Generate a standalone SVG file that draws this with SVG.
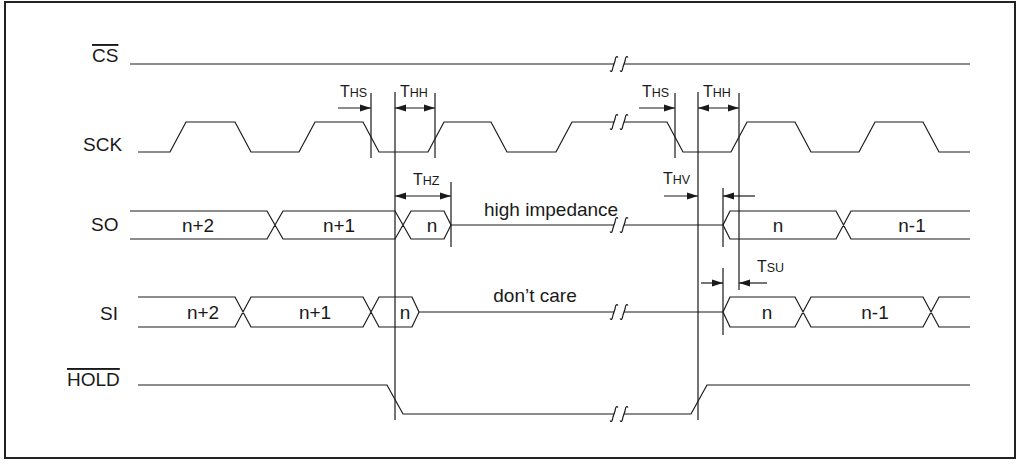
<svg xmlns="http://www.w3.org/2000/svg" xmlns:xlink="http://www.w3.org/1999/xlink" width="1022" height="464" viewBox="0 0 1022 464">
<style>
.w{fill:none;stroke:#1a1a1a;stroke-width:1.2}
.v{fill:none;stroke:#1a1a1a;stroke-width:1.2}
.a{fill:none;stroke:#1a1a1a;stroke-width:1.2}
.l{font-family:"Liberation Sans",Arial,sans-serif;font-size:19px;fill:#1a1a1a}
.m{text-anchor:middle}
.t{font-family:"Liberation Sans",Arial,sans-serif;font-size:16px;fill:#1a1a1a}
.s{font-size:12.5px}
.ov{text-decoration:overline}
</style>
<defs>
<marker id="ah" markerUnits="userSpaceOnUse" markerWidth="12" markerHeight="8" refX="11" refY="4" orient="auto-start-reverse">
<path d="M0,0.5 L11,4 L0,7.5 z" fill="#1a1a1a"/>
</marker>
<path id="brk" d="M-4,6.5 Q-2,9.5 -1,3 L1,-3 Q2,-9.5 4,-6.5" fill="none" stroke="#1a1a1a" stroke-width="1.2"/>
</defs>
<rect x="0" y="0" width="1022" height="464" fill="#fff"/>
<rect x="5" y="2" width="1010" height="456" fill="none" stroke="#222" stroke-width="2"/>

<g id="cs">
<text class="l ov" x="92" y="62">CS</text>
<path class="w" d="M130,64 H614 M624,64 H970"/>
<use xlink:href="#brk" x="614" y="64"/><use xlink:href="#brk" x="624" y="64"/>
</g>

<g id="sck">
<text class="l" x="83" y="151">SCK</text>
<path class="w" d="M138,152 H170 L186,122 H235 L251,152 H299 L315,122 H363 L379,152 H428 L444,122 H491 L507,152 H556 L572,122 H614 M624,122 H667 L683,152 H731 L747,122 H795 L811,152 H859 L875,122 H923 L939,152 H970"/>
<use xlink:href="#brk" x="614" y="122"/><use xlink:href="#brk" x="624" y="122"/>
</g>

<g id="so">
<text class="l" x="91" y="231">SO</text>
<path class="w" d="M130,211 H267 L283,239 H395 L411,211 H444 L451,225 M130,239 H267 L283,211 H395 L411,239 H444 L451,225 H614 M624,225 H723 M970,211 H851 L836,239 H730 L723,225 L730,211 H836 L851,239 H970"/>
<use xlink:href="#brk" x="614" y="225"/><use xlink:href="#brk" x="624" y="225"/>
<text class="l m" x="198" y="232">n+2</text>
<text class="l m" x="339" y="232">n+1</text>
<text class="l m" x="432" y="232">n</text>
<text class="l" x="484" y="216">high impedance</text>
<text class="l m" x="778" y="232">n</text>
<text class="l m" x="912" y="232">n-1</text>
</g>

<g id="si">
<text class="l" x="100" y="320">SI</text>
<path class="w" d="M138,297 H235 L251,327 H363 L379,297 H412 L419,312 M138,327 H235 L251,297 H363 L379,327 H412 L419,312 H614 M624,312 H723 M970,297 H939 L923,327 H811 L795,297 H730 L723,312 L730,327 H795 L811,297 H923 L939,327 H970"/>
<use xlink:href="#brk" x="614" y="312"/><use xlink:href="#brk" x="624" y="312"/>
<text class="l m" x="203" y="319">n+2</text>
<text class="l m" x="315" y="319">n+1</text>
<text class="l m" x="405" y="319">n</text>
<text class="l m" x="535" y="302">don’t care</text>
<text class="l m" x="767" y="319">n</text>
<text class="l m" x="875" y="319">n-1</text>
</g>

<g id="hold">
<text class="l ov" x="67" y="386">HOLD</text>
<path class="w" d="M138,385 H387 L403,414 H614 M624,414 H691 L707,385 H970"/>
<use xlink:href="#brk" x="614" y="414"/><use xlink:href="#brk" x="624" y="414"/>
</g>

<g id="connectors">
<path class="v" d="M371,93 V158 M395,92 V420 M435,93 V158 M451,182 V247 M675,93 V158 M698,92 V420 M739,93 V290 M723,188 V247 M723,268 V335"/>
<line class="a" x1="338" y1="108" x2="371" y2="108" marker-end="url(#ah)"/>
<line class="a" x1="395" y1="108" x2="435" y2="108" marker-start="url(#ah)" marker-end="url(#ah)"/>
<line class="a" x1="395" y1="196" x2="451" y2="196" marker-start="url(#ah)" marker-end="url(#ah)"/>
<line class="a" x1="639" y1="108" x2="675" y2="108" marker-end="url(#ah)"/>
<line class="a" x1="698" y1="108" x2="739" y2="108" marker-start="url(#ah)" marker-end="url(#ah)"/>
<line class="a" x1="664" y1="196" x2="698" y2="196" marker-end="url(#ah)"/>
<line class="a" x1="755" y1="196" x2="723" y2="196" marker-end="url(#ah)"/>
<line class="a" x1="701" y1="283" x2="723" y2="283" marker-end="url(#ah)"/>
<line class="a" x1="767" y1="283" x2="739" y2="283" marker-end="url(#ah)"/>
</g>

<g id="labels">
<text class="t" x="340" y="97">T<tspan class="s">HS</tspan></text>
<text class="t" x="400" y="97">T<tspan class="s">HH</tspan></text>
<text class="t" x="413" y="185">T<tspan class="s">HZ</tspan></text>
<text class="t" x="642" y="97">T<tspan class="s">HS</tspan></text>
<text class="t" x="703" y="97">T<tspan class="s">HH</tspan></text>
<text class="t" x="663" y="184">T<tspan class="s">HV</tspan></text>
<text class="t" x="757" y="272">T<tspan class="s">SU</tspan></text>
</g>
</svg>
